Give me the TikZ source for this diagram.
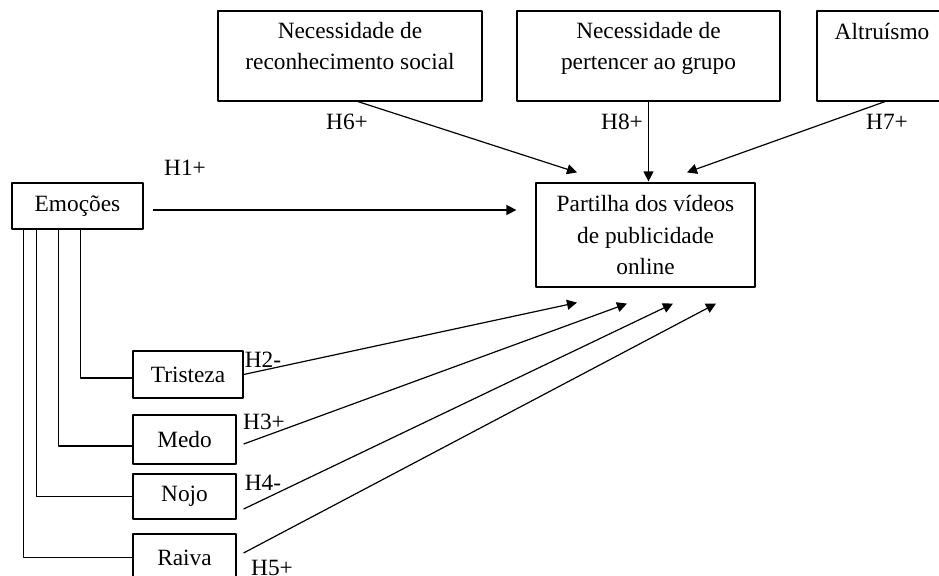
\documentclass[tikz,border=0pt]{standalone}
\usepackage{fontspec}
\setmainfont{Liberation Serif}
\usetikzlibrary{arrows.meta}
\tikzset{
  box/.style={draw,line width=0.9pt,inner sep=0pt,align=center},
  hyp/.style={inner sep=0pt},
  arr/.style={->,line width=0.9pt},
  link/.style={line width=0.9pt},
}
\begin{document}
\begin{tikzpicture}[x=0.75pt,y=-0.75pt,font=\fontsize{17.5}{23.5}\selectfont,line join=round,>={Triangle[length=7.5pt,width=7.5pt]}]
\clip (0,0) rectangle (939,575);
% left side
\node[box,minimum width=98.25pt,minimum height=34.5pt] (emo) at (77.5,206) {Emoções};
\node[box,minimum width=82.5pt,minimum height=35.25pt] (tri) at (188,374.5) {Tristeza};
\node[box,minimum width=77.25pt,minimum height=36.75pt] (medo) at (184.5,439.5) {Medo};
\node[box,minimum width=77.25pt,minimum height=33.75pt] (nojo) at (184.5,496.5) {Nojo};
\node[box,minimum width=77.25pt,minimum height=35.25pt] (raiva) at (184.5,557.5) {Raiva};
% top
\node[box] (nrs) at (350,56) {\parbox[c][67.5pt][t]{198pt}{\vspace*{3.8pt}\centering\strut Necessidade de\\reconhecimento social}};
\node[box] (npg) at (648.5,56) {\parbox[c][67.5pt][t]{197.25pt}{\vspace*{3.8pt}\centering\strut Necessidade de\\pertencer ao grupo}};
\node[box] (alt) at (882,56) {\parbox[c][67.5pt][t]{97.5pt}{\vspace*{5pt}\centering\strut Altruísmo}};
% outcome
\node[box,minimum width=164.25pt,minimum height=78pt] (part) at (645.5,235) {Partilha dos vídeos\\de publicidade\\online};
% hypotheses
\node[hyp] (h1) at (185,168) {H1+};
\node[hyp] (h2) at (263,360) {H2-};
\node[hyp] (h3) at (264,422) {H3+};
\node[hyp] (h4) at (263,483) {H4-};
\node[hyp] (h5) at (272,568) {H5+};
\node[hyp] (h6) at (347,122) {H6+};
\node[hyp] (h8) at (622,122) {H8+};
\node[hyp] (h7) at (887,122) {H7+};
% connectors
\draw[arr,shorten <=6.75pt,shorten >=14.25pt] ([yshift=-3pt]emo.east) -- ([yshift=-3pt]emo.east -| part.west);
\draw[link] ([xshift=51.75pt]emo.south west) |- ([yshift=-2.6pt]tri.west);
\draw[link] ([xshift=35.25pt]emo.south west) |- ([yshift=-4.9pt]medo.west);
\draw[link] ([xshift=18.75pt]emo.south west) |- (nojo.west);
\draw[link] ([xshift=9pt]emo.south west) |- (raiva.west);
\draw[arr] (tri.east) -- ([xshift=-51.4pt,yshift=-11.25pt]part.south);
\draw[arr] ([xshift=5.25pt,yshift=-3.4pt]medo.east) -- ([xshift=-13.9pt,yshift=-12pt]part.south);
\draw[arr] ([xshift=5.25pt,yshift=-9.4pt]nojo.east) -- ([xshift=20.6pt,yshift=-12pt]part.south);
\draw[arr] ([xshift=5.25pt,yshift=3.4pt]raiva.east) -- ([xshift=52.9pt,yshift=-12pt]part.south);
\draw[arr] ([xshift=6pt]nrs.south) -- ([xshift=-51.4pt,yshift=7.5pt]part.north);
\draw[arr,shorten >=0.75pt] (npg.south) -- (npg.south |- part.north);
\draw[arr] ([xshift=2.25pt]alt.south) -- ([xshift=31.1pt,yshift=7.5pt]part.north);
\end{tikzpicture}
\end{document}
